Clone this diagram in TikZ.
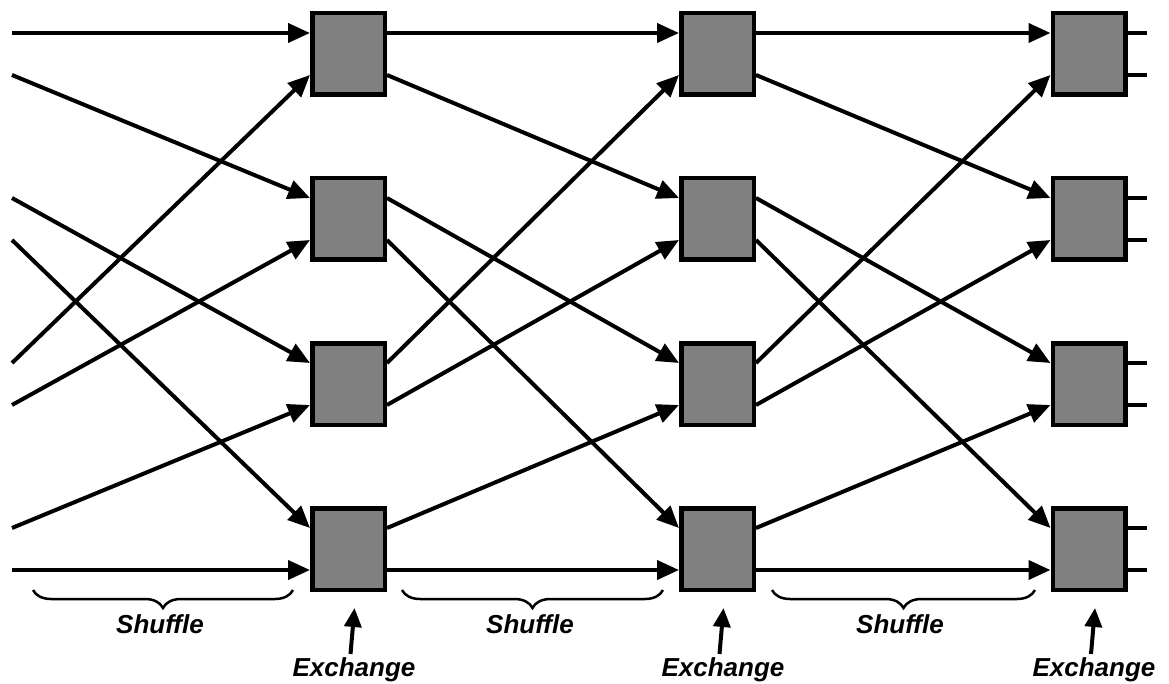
\documentclass[tikz,border=0pt]{standalone}
\usepackage{fontspec}
\setmainfont{Liberation Sans}
\usetikzlibrary{arrows.meta,decorations.pathreplacing}
\begin{document}
\begin{tikzpicture}[x=1pt,y=-1pt,
  swbox/.style={draw,line width=4.5pt,fill=black!50,minimum width=72.5pt,minimum height=81.5pt,inner sep=0pt},
  wire/.style={line width=4pt,-{Triangle[length=22pt,width=19pt]}},
  stub/.style={line width=4pt},
  exarrow/.style={line width=4pt,-{Triangle[length=19pt,width=17pt]}},
  bracemark/.style={decorate,decoration={brace,mirror,amplitude=18pt},line width=2.5pt},
  lbl/.style={font=\fontsize{26}{30}\selectfont\bfseries\itshape,inner sep=0pt}]
\useasboundingbox (0,0) rectangle (1169,684);

% exchange boxes: column c, row r
\foreach \c/\x in {1/348.5,2/717.5,3/1089}
  \foreach \r/\y in {1/54,2/219,3/384,4/549}
    \node[swbox] (b\c\r) at (\x,\y) {};

% input lines
\foreach \i/\y in {0/33,1/75,2/198,3/240,4/363,5/405,6/528,7/570}
  \coordinate (in\i) at (12,\y);

% first perfect shuffle
\foreach \s/\dr/\dp in {0/1/21pt,4/1/-21pt,1/2/21pt,5/2/-21pt,2/3/21pt,6/3/-21pt,3/4/21pt,7/4/-21pt}
  \draw[wire] (in\s) -- ([yshift=\dp]b1\dr.west);

% second and third perfect shuffles
\foreach \c/\nx in {1/2,2/3}
  \foreach \sr/\sp/\dr/\dp in {1/21pt/1/21pt, 1/-21pt/2/21pt, 2/21pt/3/21pt, 2/-21pt/4/21pt,
                               3/21pt/1/-21pt, 3/-21pt/2/-21pt, 4/21pt/3/-21pt, 4/-21pt/4/-21pt}
    \draw[wire] ([yshift=\sp]b\c\sr.east) -- ([yshift=\dp]b\nx\dr.west);

% output stubs
\foreach \r in {1,...,4}
  \foreach \p in {21pt,-21pt}
    \draw[stub] ([yshift=\p]b3\r.east) -- ++(19,0);

% shuffle braces and labels
\foreach \k/\a/\b/\m in {1/33/293/160,2/402/663/530,3/772/1035/900}{
  \coordinate (bra\k) at (\a,590);
  \coordinate (brb\k) at (\b,590);
  \draw[bracemark] (bra\k) -- (brb\k);
  \node[lbl] (sh\k) at (\m,624) {Shuffle};
}

% exchange labels and arrows
\foreach \c/\m in {1/354,2/723,3/1094}{
  \node[lbl] (ex\c) at (\m,670) {Exchange};
  \draw[exarrow] ([xshift=2pt,yshift=-62pt]b\c4.south) -- ([xshift=6pt,yshift=-16pt]b\c4.south);
}
\end{tikzpicture}
\end{document}
